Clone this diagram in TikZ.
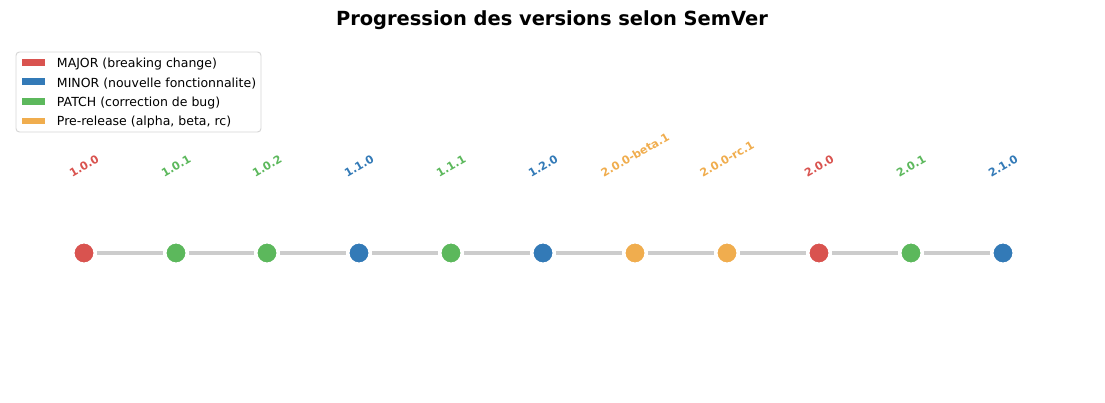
\documentclass[tikz,border=0pt]{standalone}
\usepackage{fontspec}
\setmainfont{DejaVu Sans}
\usepackage{graphicx}
\usetikzlibrary{positioning}
\definecolor{majorred}{HTML}{D9534F}
\definecolor{minorblue}{HTML}{337AB7}
\definecolor{patchgreen}{HTML}{5CB85C}
\definecolor{preorange}{HTML}{F0AD4E}
\definecolor{trackgray}{HTML}{CCCCCC}
\definecolor{framegray}{HTML}{D6D6D6}

\tikzset{
  version/.style={circle,fill=#1,draw=white,line width=2.7pt,
    minimum size=16.4pt,inner sep=0pt},
  tag/.style={anchor=south,inner sep=0pt,text=#1,
    font=\fontsize{8}{9}\selectfont\bfseries},
  track/.style={draw=trackgray,line width=2.4pt},
  swatch/.style={fill=#1,minimum width=16.3pt,minimum height=5pt,inner sep=0pt},
  entry/.style={font=\fontsize{9}{11}\selectfont,inner sep=0pt,anchor=west,
    yshift=-1pt}
}

\begin{document}
\begin{tikzpicture}[x=0.72pt,y=-0.72pt]
  \useasboundingbox (0,0) rectangle (1105,402);

  \node[font=\fontsize{14}{17}\selectfont\bfseries] (title) at (552,20.5)
    {Progression des versions selon SemVer};

  % legend
  \node[draw=framegray,fill=white,rounded corners=2.5pt,line width=0.7pt,
    minimum width=176.4pt,minimum height=57.6pt] (legend) at (138.5,92) {};
  \node[swatch=majorred]   (sw1) at (33.7,62.3) {};
  \node[swatch=minorblue]  (sw2) at (33.7,81.8) {};
  \node[swatch=patchgreen] (sw3) at (33.7,101.5) {};
  \node[swatch=preorange]  (sw4) at (33.7,121) {};
  \node[entry,right=8.2pt of sw1] (en1) {MAJOR (breaking change)};
  \node[entry,right=8.2pt of sw2] (en2) {MINOR (nouvelle fonctionnalite)};
  \node[entry,right=8.2pt of sw3] (en3) {PATCH (correction de bug)};
  \node[entry,right=8.2pt of sw4] (en4) {Pre-release (alpha, beta, rc)};

  % versions
  \node[version=majorred]   (v1)  at (84,253) {};
  \node[version=patchgreen] (v2)  at (176,253) {};
  \node[version=patchgreen] (v3)  at (267,253) {};
  \node[version=minorblue]  (v4)  at (359,253) {};
  \node[version=patchgreen] (v5)  at (451,253) {};
  \node[version=minorblue]  (v6)  at (543,253) {};
  \node[version=preorange]  (v7)  at (635,253) {};
  \node[version=preorange]  (v8)  at (727,253) {};
  \node[version=majorred]   (v9)  at (819,253) {};
  \node[version=patchgreen] (v10) at (911,253) {};
  \node[version=minorblue]  (v11) at (1003,253) {};

  \draw[track] (v1) -- (v2) (v2) -- (v3) (v3) -- (v4) (v4) -- (v5)
    (v5) -- (v6) (v6) -- (v7) (v7) -- (v8) (v8) -- (v9) (v9) -- (v10)
    (v10) -- (v11);

  \node[tag=majorred]   (l1)  at (84,178)   {\rotatebox{30}{1.0.0}};
  \node[tag=patchgreen] (l2)  at (176,178)  {\rotatebox{30}{1.0.1}};
  \node[tag=patchgreen] (l3)  at (267,178)  {\rotatebox{30}{1.0.2}};
  \node[tag=minorblue]  (l4)  at (359,178)  {\rotatebox{30}{1.1.0}};
  \node[tag=patchgreen] (l5)  at (451,178)  {\rotatebox{30}{1.1.1}};
  \node[tag=minorblue]  (l6)  at (543,178)  {\rotatebox{30}{1.2.0}};
  \node[tag=preorange]  (l7)  at (635,178)  {\rotatebox{30}{2.0.0-beta.1}};
  \node[tag=preorange]  (l8)  at (727,178)  {\rotatebox{30}{2.0.0-rc.1}};
  \node[tag=majorred]   (l9)  at (819,178)  {\rotatebox{30}{2.0.0}};
  \node[tag=patchgreen] (l10) at (911,178)  {\rotatebox{30}{2.0.1}};
  \node[tag=minorblue]  (l11) at (1003,178) {\rotatebox{30}{2.1.0}};
\end{tikzpicture}
\end{document}
